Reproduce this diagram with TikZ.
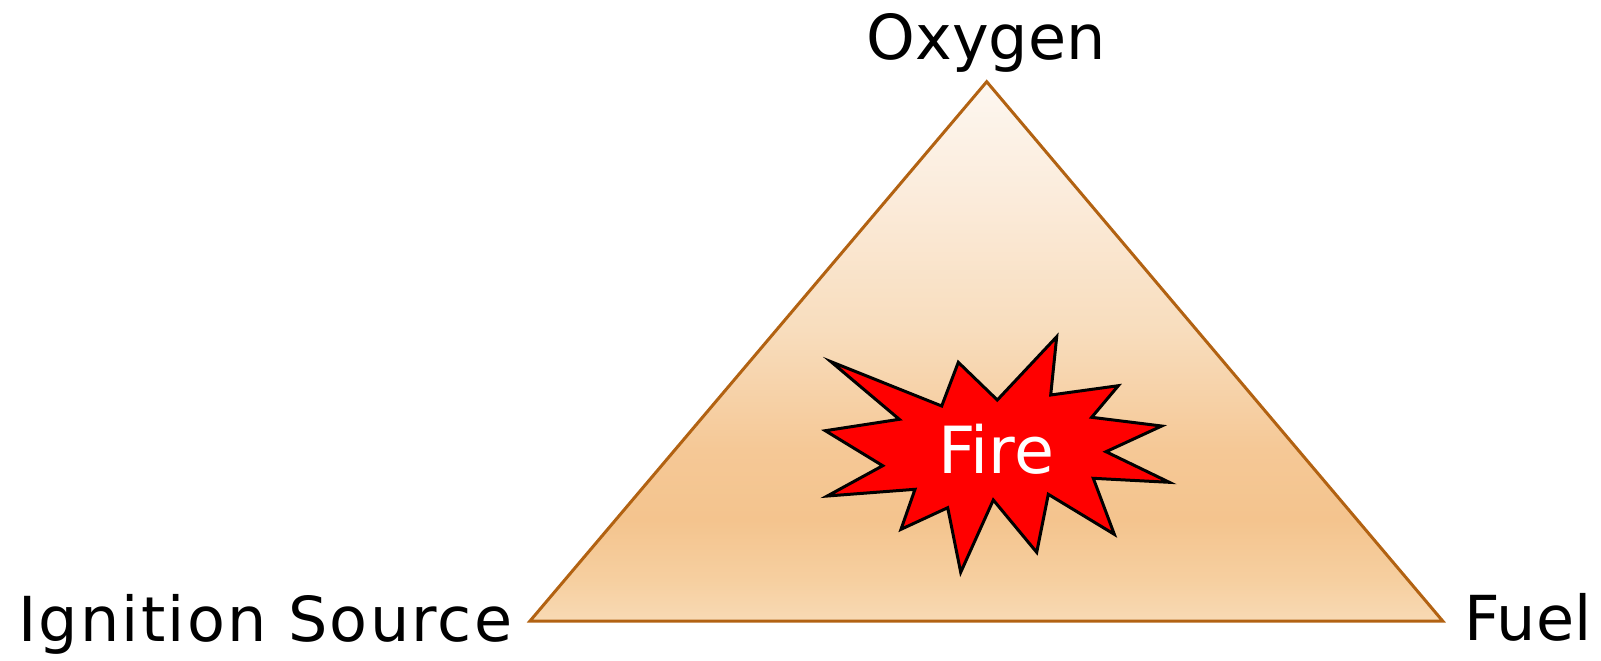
\documentclass[tikz,border=0pt]{standalone}
\usepackage{fontspec}
\setmainfont{DejaVu Sans}
\definecolor{tribord}{RGB}{178,98,18}
\definecolor{fireRed}{RGB}{255,0,0}
\pgfdeclareverticalshading{trishade}{100bp}{%
  color(0bp)=(rgb,255:red,248;green,218;blue,180);
  color(25bp)=(rgb,255:red,248;green,218;blue,180);
  color(28.8bp)=(rgb,255:red,246;green,207;blue,160);
  color(34.4bp)=(rgb,255:red,244;green,196;blue,142);
  color(40.9bp)=(rgb,255:red,245;green,200;blue,150);
  color(52bp)=(rgb,255:red,248;green,221;blue,189);
  color(64bp)=(rgb,255:red,251;green,235;blue,218);
  color(75bp)=(rgb,255:red,253;green,247;blue,240);
  color(100bp)=(rgb,255:red,253;green,247;blue,240)}
\tikzset{
  lbl/.style={inner sep=0pt, font=\fontsize{31}{37}\selectfont, text=black},
  widelbl/.style={inner sep=0pt, font=\fontsize{31}{37}\selectfont\addfontfeatures{LetterSpace=3.5}, text=black},
  firelbl/.style={inner sep=0pt, font=\fontsize{32.5}{38}\selectfont, text=white},
}
\begin{document}
\begin{tikzpicture}[x=0.5pt,y=-0.5pt]
\useasboundingbox (0,0) rectangle (1601,660);
\coordinate (top) at (986.7,81.7);
\coordinate (left) at (530,621);
\coordinate (right) at (1442.7,621);
\path[shading=trishade, draw=tribord, line width=1.5pt, line join=miter]
  (top) -- (right) -- (left) -- cycle;
\draw[fill=fireRed, draw=black, line width=1.5pt, line join=miter]
  (831,361.7) -- (941.7,406) -- (958.3,362.3) -- (997.3,400) -- (1056.7,336.7)
  -- (1050.7,395) -- (1118.3,385.7) -- (1091.7,417.3) -- (1161.7,426)
  -- (1106,451.7) -- (1169.3,482.3) -- (1093.3,478.3) -- (1114.3,534.3)
  -- (1048.3,494.3) -- (1036.7,552.3) -- (993.3,500) -- (960.7,572.3)
  -- (947.7,507.7) -- (901,529.3) -- (915,489.3) -- (827.3,496)
  -- (882.7,465.7) -- (825.3,430.7) -- (899.3,419.3) -- cycle;
\node[firelbl, anchor=base] (fire) at (996,473) {Fire};
\node[lbl, anchor=base] (oxygen) at (986,59) {Oxygen};
\node[widelbl, anchor=base west] (ignition) at (18,641) {Ignition Source};
\node[lbl, anchor=base west] (fuel) at (1464,640) {Fuel};
\end{tikzpicture}
\end{document}
